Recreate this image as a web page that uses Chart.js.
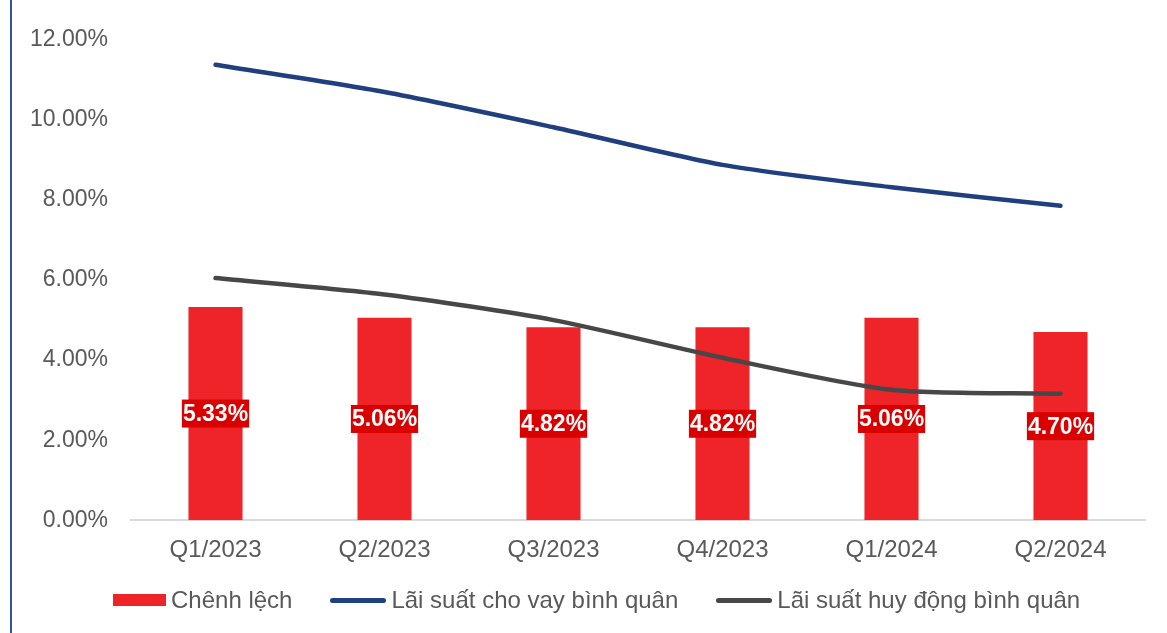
<!doctype html>
<html lang="vi">
  <head>
    <meta charset="utf-8">
    <title>Chênh lệch lãi suất</title>
    <style>
      * {
        margin: 0;
        padding: 0;
      }
      body {
        background: #fff;
        font-family: "Liberation Sans", Arial, sans-serif;
      }
      .frame {
        position: absolute;
        left: 10px;
        top: 0;
        width: 1155px;
        height: 633px;
        border-left: 2px solid #2F5597;
      }
      .chartBox {
        position: absolute;
        left: 0;
        top: 0;
        width: 1155px;
        height: 633px;
      }
      .legend {
        position: absolute;
        left: 101px;
        top: 586px;
        display: flex;
        gap: 38px;
        color: #595959;
        font-size: 24px;
        line-height: 28px;
        white-space: nowrap;
      }
      .legend .item {
        display: flex;
        align-items: center;
        gap: 5px;
      }
      .legend .swatch {
        width: 53px;
        height: 12px;
      }
      .legend .line {
        width: 56px;
        height: 5px;
        border-radius: 3px;
      }
    </style>
  </head>
  <body>
    <div class="frame">
      <div class="chartBox">
        <canvas id="myChart"></canvas>
      </div>
      <div class="legend" id="legend"></div>
    </div>
    <script src="https://cdn.jsdelivr.net/npm/chart.js/dist/chart.umd.min.js"></script>
    <script>
    const quarters = ['Q1/2023', 'Q2/2023', 'Q3/2023', 'Q4/2023', 'Q1/2024', 'Q2/2024'];
    const spread = [5.33, 5.06, 4.82, 4.82, 5.06, 4.70];
    const lendingRate = [11.38, 10.70, 9.82, 8.88, 8.32, 7.86];
    const depositRate = [6.05, 5.64, 5.00, 4.06, 3.26, 3.16];
    const yTicks = [0, 2, 4, 6, 8, 10, 12];

    const FONT = '"Liberation Sans", Arial, sans-serif';

    // white value tags on a dark red box, centred in each bar
    const barLabels = {
      id: 'barLabels',
      afterDatasetsDraw(chart) {
        const ctx = chart.ctx;
        const meta = chart.getDatasetMeta(0);
        ctx.save();
        ctx.font = 'bold 23px ' + FONT;
        ctx.textAlign = 'center';
        ctx.textBaseline = 'middle';
        meta.data.forEach((bar, i) => {
          const text = spread[i].toFixed(2) + '%';
          const w = ctx.measureText(text).width + 2;
          const h = 28;
          const cy = (bar.y + bar.base) / 2;
          ctx.fillStyle = '#D90000';
          ctx.fillRect(bar.x - w / 2, cy - h / 2, w, h);
          ctx.fillStyle = '#fff';
          ctx.fillText(text, bar.x, cy + 1);
        });
        ctx.restore();
      }
    };

    const data = {
      labels: quarters,
      datasets: [{
        label: 'Chênh lệch',
        data: spread,
        backgroundColor: '#EE2428',
        borderWidth: 0,
        barPercentage: 1,
        categoryPercentage: 0.32,
        order: 2
      }, {
        label: 'Lãi suất cho vay bình quân',
        type: 'line',
        data: lendingRate,
        borderColor: '#203F7E',
        borderWidth: 4.5,
        borderCapStyle: 'round',
        tension: 0.25,
        pointRadius: 0,
        order: 1
      }, {
        label: 'Lãi suất huy động bình quân',
        type: 'line',
        data: depositRate,
        borderColor: '#474747',
        borderWidth: 4.5,
        borderCapStyle: 'round',
        tension: 0.25,
        pointRadius: 0,
        order: 1
      }]
    };

    const config = {
      type: 'bar',
      data,
      options: {
        responsive: true,
        maintainAspectRatio: false,
        animation: false,
        layout: {
          padding: { left: 0, right: 22, top: 40, bottom: 52 }
        },
        plugins: {
          tooltip: { enabled: false },
          legend: { display: false }
        },
        scales: {
          x: {
            grid: { display: false, drawTicks: false },
            border: { display: true, color: '#D9D9D9', width: 2 },
            ticks: {
              color: '#595959',
              padding: 16,
              font: { family: FONT, size: 24 }
            }
          },
          y: {
            min: 0,
            max: 12,
            grid: { display: false, drawTicks: false },
            border: { display: false },
            afterBuildTicks: scale => {
              scale.ticks = yTicks.map(v => ({ value: v }));
            },
            afterFit: scale => {
              scale.width = 119;
            },
            ticks: {
              color: '#595959',
              padding: 23,
              font: { family: FONT, size: 23 },
              callback: value => value.toFixed(2) + '%'
            }
          }
        }
      },
      plugins: [barLabels]
    };

    const myChart = new Chart(document.getElementById('myChart'), config);

    // legend built from the datasets: a box for the bars, a rounded stroke for the lines
    const legendEl = document.getElementById('legend');
    data.datasets.forEach(ds => {
      const item = document.createElement('div');
      item.className = 'item';
      const mark = document.createElement('span');
      if (ds.type === 'line') {
        mark.className = 'line';
        mark.style.background = ds.borderColor;
      } else {
        mark.className = 'swatch';
        mark.style.background = ds.backgroundColor;
      }
      const text = document.createElement('span');
      text.textContent = ds.label;
      item.appendChild(mark);
      item.appendChild(text);
      legendEl.appendChild(item);
    });
    </script>
  </body>
</html>
